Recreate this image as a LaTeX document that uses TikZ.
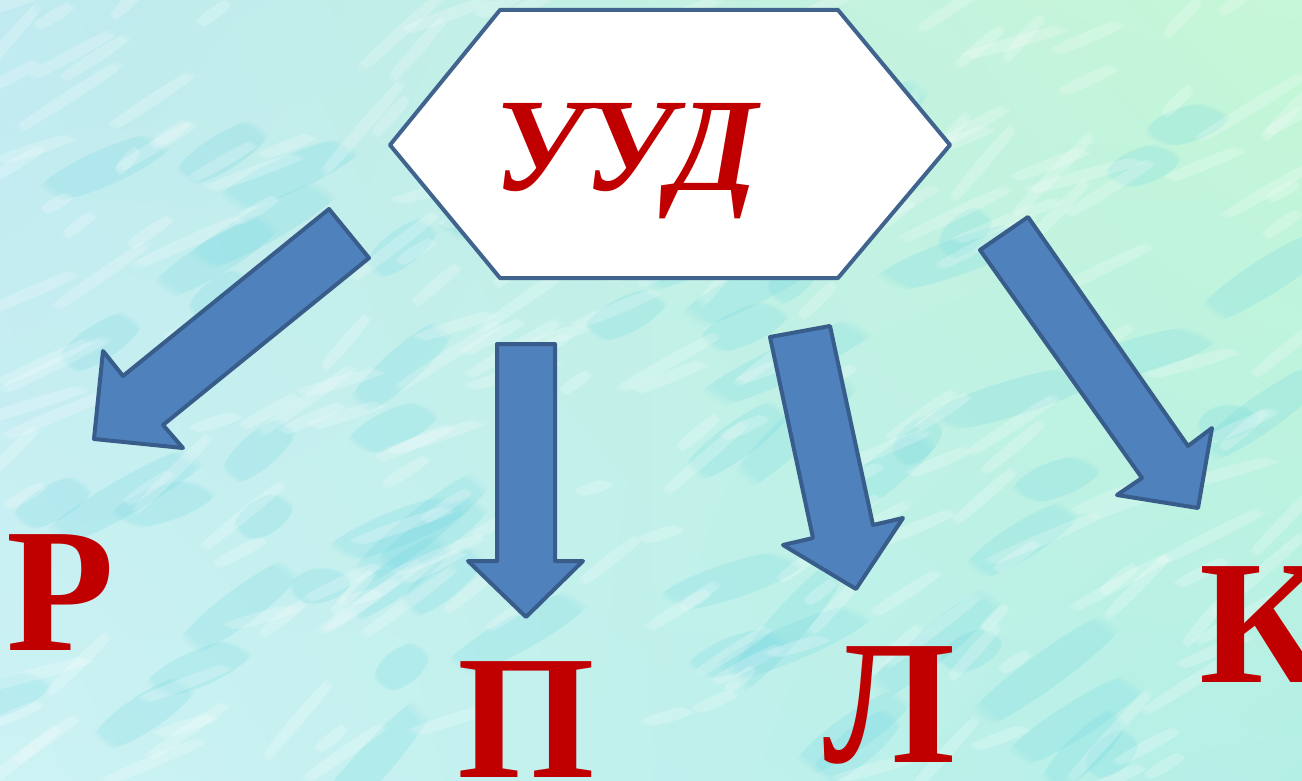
\documentclass[tikz,border=0pt]{standalone}
\usepackage{fontspec}
\setmainfont{Liberation Serif}
\usepackage{tikz}
\usetikzlibrary{fadings,shadings}
\tikzset{>=latex}
\definecolor{bgul}{HTML}{BFEAF0}
\definecolor{bgur}{HTML}{C6F7D6}
\definecolor{bgll}{HTML}{CDF2F4}
\definecolor{bglr}{HTML}{B4EFE6}
\definecolor{blotch}{HTML}{6FD6E2}
\definecolor{arrowfill}{HTML}{4F81BD}
\definecolor{arrowline}{HTML}{385D8A}
\definecolor{hexline}{HTML}{41648F}
\definecolor{txtred}{HTML}{C00000}
\tikzset{
  blockarrow/.style={fill=arrowfill, draw=arrowline, line width=4pt, line join=round},
  letter/.style={text=txtred, inner sep=0pt, anchor=base,
    font=\bfseries\fontsize{177}{177}\selectfont},
}

\begin{document}
\begin{tikzpicture}[x=1pt, y=-1pt]
  \useasboundingbox (0,0) rectangle (1302,781);
  % background
  \shade[upper left=bgul, upper right=bgur, lower left=bgll, lower right=bglr]
    (0,0) rectangle (1302,781);
  \pgfmathsetseed{11}
  \foreach \k in {1,...,70}{
    \pgfmathsetmacro{\px}{rnd*1302}
    \pgfmathsetmacro{\py}{120+rnd*661}
    \pgfmathsetmacro{\pl}{30+rnd*80}
    \pgfmathsetmacro{\pa}{15+rnd*35}
    \fill[blotch, opacity=0.22, path fading=circle with fuzzy edge 15 percent,
      rotate around={\pa:(\px,\py)}] (\px,\py) ellipse [x radius=\pl, y radius=18];
  }
  \foreach \k in {1,...,220}{
    \pgfmathsetmacro{\px}{rnd*1302}
    \pgfmathsetmacro{\py}{rnd*781}
    \pgfmathsetmacro{\pl}{20+rnd*70}
    \pgfmathsetmacro{\pa}{15+rnd*35}
    \fill[white, opacity=0.22, path fading=circle with fuzzy edge 15 percent,
      rotate around={\pa:(\px,\py)}] (\px,\py) ellipse [x radius=\pl, y radius=6];
  }

  % hexagon with title
  \draw[fill=white, draw=hexline, line width=4pt, line join=round]
    (390,145) -- (500,10) -- (838,10) -- (950,145) -- (838,278) -- (500,278) -- cycle;
  \node[text=txtred, inner sep=0pt, anchor=base, xscale=0.97,
    font=\bfseries\itshape\fontsize{133}{133}\selectfont] (uud) at (626,190) {УУД};

  % arrows
  \draw[blockarrow] (329,209) -- (369,258) -- (163,425) -- (183,448) -- (94,439)
    -- (103,351) -- (123,376) -- cycle;
  \draw[blockarrow] (497,344) -- (555,344) -- (555,561) -- (583,561) -- (526,617)
    -- (468,561) -- (497,561) -- cycle;
  \draw[blockarrow] (770,337) -- (830,326) -- (873,525) -- (903,518) -- (856,589)
    -- (783,545) -- (813,538) -- cycle;
  \draw[blockarrow] (980,250) -- (1028,217) -- (1188,446) -- (1212,428) -- (1198,508)
    -- (1117,495) -- (1142,478) -- cycle;

  % letters
  \node[letter] (r) at (61,650) {Р};
  \node[letter] (p) at (526,777) {П};
  \node[letter] (l) at (889,762) {Л};
  \node[letter] (k) at (1264,682) {К};
\end{tikzpicture}
\end{document}
